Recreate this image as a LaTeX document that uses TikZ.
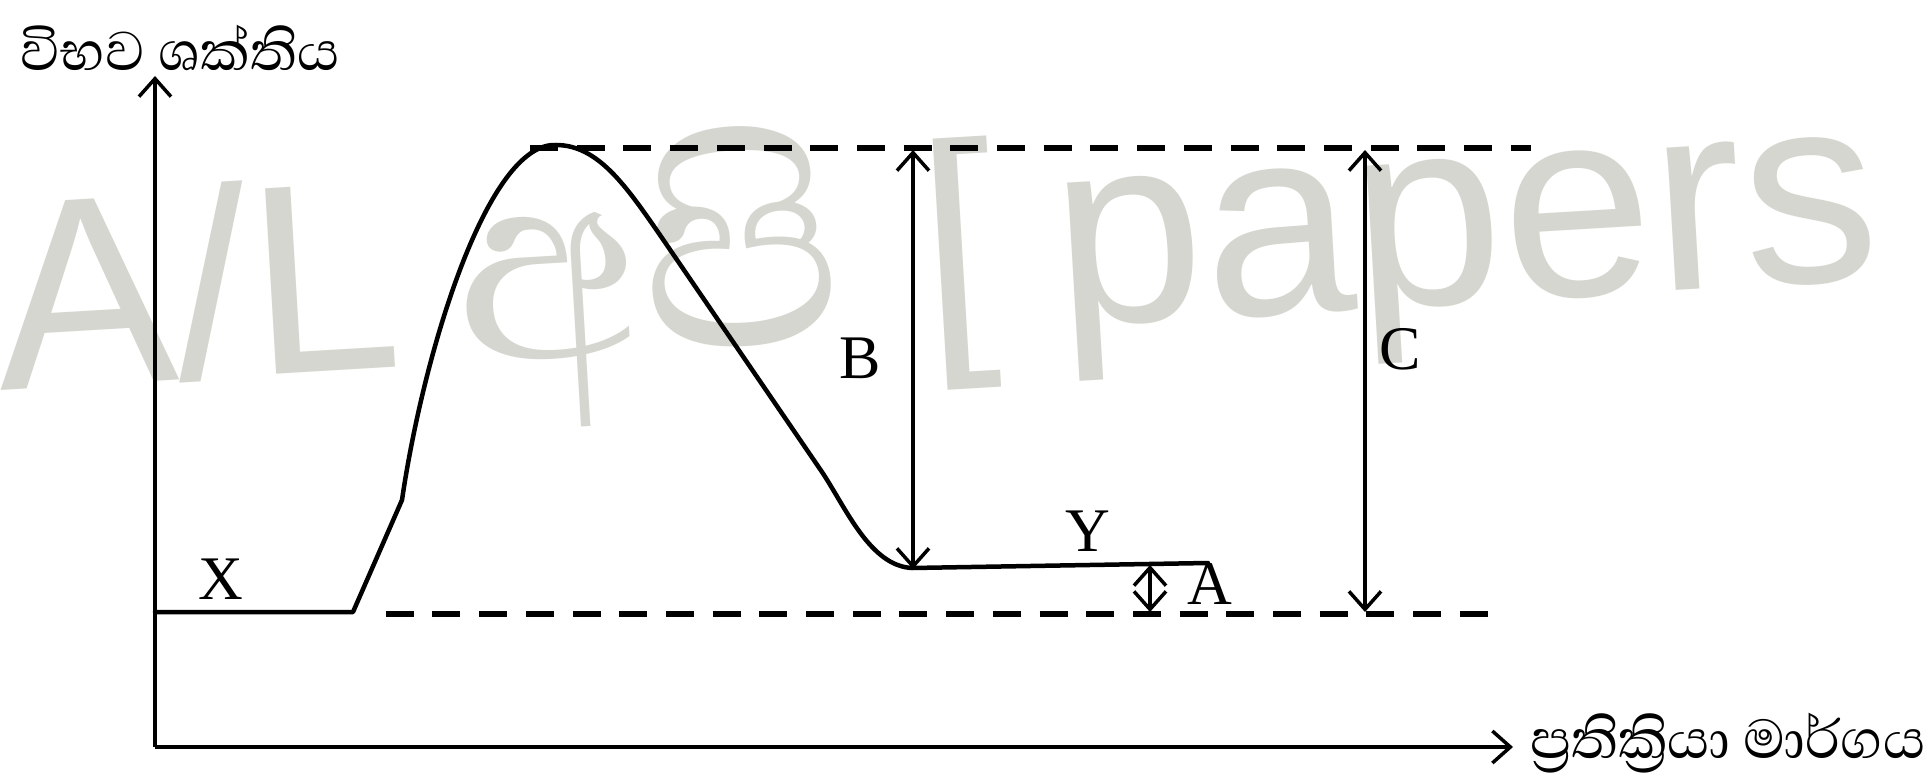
\documentclass[tikz,border=0pt]{standalone}
\usepackage{fontspec}
\usepackage{graphicx}
\setmainfont{Liberation Serif}
\newfontfamily\sinhfont[Script=Sinhala]{Abhaya Libre}
\newfontfamily\wmsans{Liberation Sans}
\usetikzlibrary{arrows.meta}
\definecolor{wm}{RGB}{214,214,208}
\begin{document}
\begin{tikzpicture}[x=1pt,y=-1pt,
  curve/.style={line width=4.5pt, line join=round, line cap=round},
  dashline/.style={line width=5.5pt, dash pattern=on 28pt off 18.7pt},
  tipa/.tip={Straight Barb[length=18pt,width=32pt,line width=3.5pt]},
  dim/.style={line width=3.5pt, tipa-tipa},
  axis/.style={line width=4pt, -tipa},
  lab/.style={font=\fontsize{62}{62}\selectfont, inner sep=0pt},
  slab/.style={font=\sinhfont\fontsize{70}{70}\selectfont, inner sep=0pt},
  wmtext/.style={text=wm, inner sep=0pt, rotate=3.4, anchor=base west, font=\wmsans\fontsize{270}{270}\selectfont}]
\fill[white] (0,0) rectangle (1930,778);
\useasboundingbox (0,0) rectangle (1930,778);
% watermark
\node[wmtext] (wmA) at (0,391) {A/L};
\node[wmtext] (wmS) at (459,364) {\resizebox{390pt}{!}{\sinhfont අපි}};
\node[wmtext] (wmB) at (925,336) {[};
\node[wmtext] (wmP) at (1058,327) {papers};
% coordinates
\coordinate (O) at (155,747);
\coordinate (ytip) at (155,76);
\coordinate (xtip) at (1513,747);
\coordinate (r0) at (155,612);
\coordinate (r1) at (353,612);
\coordinate (k) at (402,500);
\coordinate (peak) at (556,145);
\coordinate (d0) at (660,235);
\coordinate (d1) at (822,472);
\coordinate (valley) at (912,568);
\coordinate (pend) at (1208,563);
\coordinate (u0) at (530,148);
\coordinate (u1) at (1531,148);
\coordinate (l0) at (367,614);
\coordinate (l1) at (1496,614);
\coordinate (Bt) at (913,150);
\coordinate (Bb) at (913,569);
\coordinate (Ct) at (1365,150);
\coordinate (Cb) at (1365,612);
\coordinate (At) at (1150,565);
\coordinate (Ab) at (1150,612);
% axes
\draw[axis] (O) -- (ytip);
\draw[axis] (O) -- (xtip);
% dashed lines
\draw[dashline] (u0) -- (u1);
\draw[dashline, dash phase=28pt] (l0) -- (l1);
% curve
\draw[curve] (r0) -- (r1) -- (k)
  .. controls (424,350) and (488,142) .. (peak)
  .. controls (598,145) and (626,186) .. (d0)
  -- (d1)
  .. controls (846,508) and (870,566) .. (valley)
  -- (pend);
% dimension arrows
\draw[dim] (Bt) -- (Bb);
\draw[dim] (Ct) -- (Cb);
\draw[dim] (At) -- (Ab);
% labels
\node[lab] (X) at (221,579) {X};
\node[lab] (Y) at (1088,531) {Y};
\node[lab] (A) at (1210,584) {A};
\node[lab] (B) at (860,358) {B};
\node[lab] (C) at (1400,349) {C};
\node[slab] (ylab) at (180,48) {විභව ශක්තිය};
\node[slab] (xlab) at (1728,743) {ප්^^^^200dරතික්^^^^200dරියා මාර්ගය};
\end{tikzpicture}
\end{document}
